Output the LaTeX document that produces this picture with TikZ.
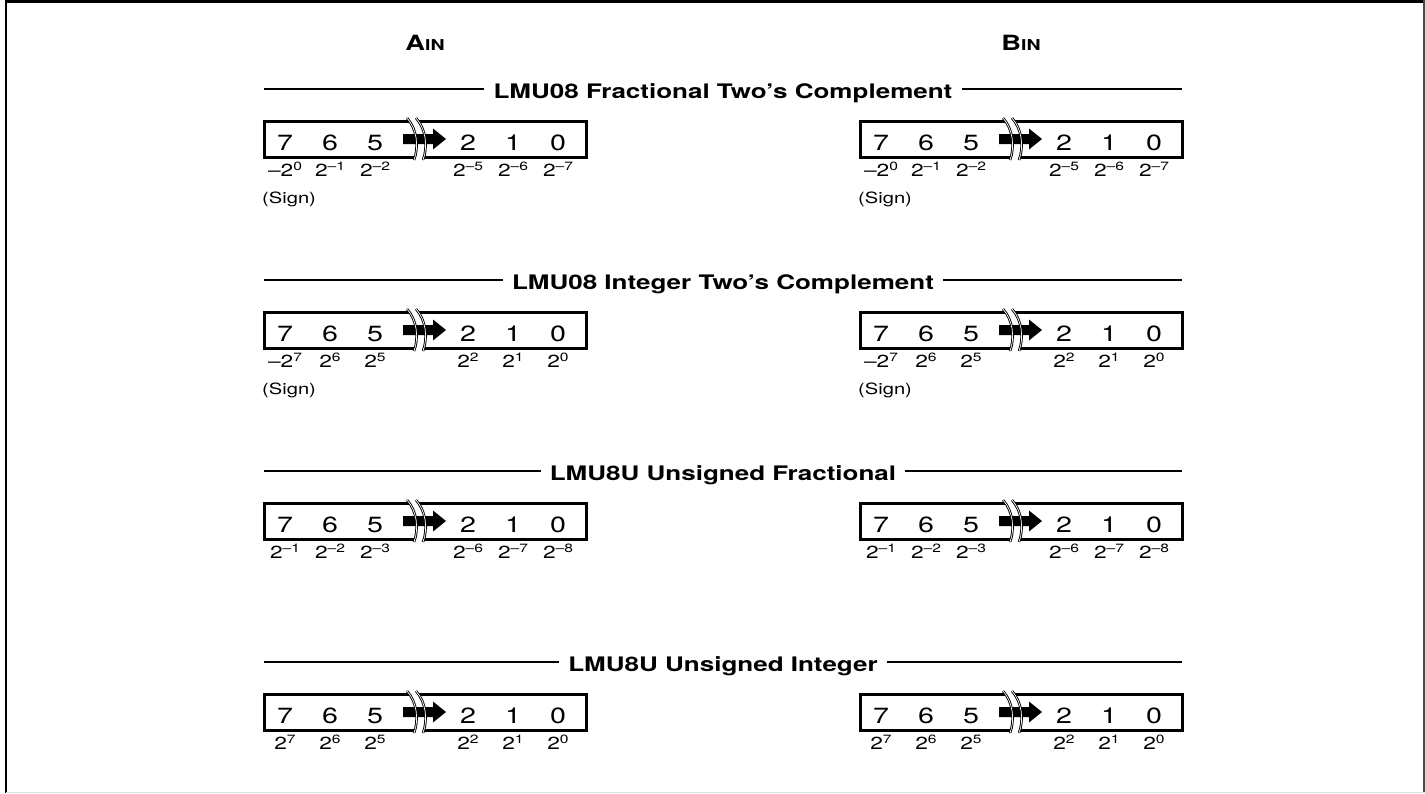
\documentclass[tikz,border=0pt]{standalone}
\usepackage{fontspec}
\setmainfont[FakeStretch=1.3]{TeX Gyre Heros}
\usetikzlibrary{calc,positioning}

\newcommand{\pw}[1]{2\raisebox{6pt}{\fontsize{12}{12}\selectfont #1}}
\newcommand{\mi}{\textendash}

\tikzset{
  regline/.style={line width=3pt},
  hdrline/.style={line width=1.8pt},
  bitnum/.style={font=\fontsize{22}{24}\selectfont, anchor=base, inner sep=0pt},
  weight/.style={font=\fontsize{17.5}{19}\selectfont, anchor=base, inner sep=0pt},
  signtxt/.style={font=\fontsize{15.5}{17}\selectfont, anchor=base west, inner sep=0pt},
  hdr/.style={font=\bfseries\fontsize{20}{22}\selectfont, anchor=base, inner sep=9pt},
  colhead/.style={font=\bfseries\fontsize{21}{23}\selectfont, anchor=base, inner sep=0pt},
  breakline/.style={line width=0.9pt, double=white, double distance=0.7pt},
}

% one register: bits 7 6 5 -> 2 1 0, weights under them
\newcommand{\bitreg}[9]{%
  \begin{scope}[shift={(#2,#3)}]
    \draw[regline] (0,-18) rectangle (322,18);
    \fill[white] (143,-21) .. controls (153,-10) and (155,8) .. (150,21)
      -- (159,21) .. controls (164,8) and (162,-10) .. (152,-21) -- cycle;
    \fill (139,-5) -- (169,-5) -- (169,-10.5) -- (182,0) -- (169,10.5)
      -- (169,5) -- (139,5) -- cycle;
    \draw[breakline] (143,-21) .. controls (153,-10) and (155,8) .. (150,21);
    \draw[breakline] (152,-21) .. controls (162,-10) and (164,8) .. (159,21);
    \foreach \b/\px in {7/21,6/66,5/111,2/204,1/249,0/294}
      \node[bitnum] (#1-b\b) at (\px,11) {\b};
    \foreach \b/\px/\w in {7/21/{#4},6/66/{#5},5/111/{#6},2/204/{#7},1/249/{#8},0/294/{#9}}
      \node[weight] (#1-w\b) at (\px,37) {\w};
  \end{scope}}

\begin{document}
\begin{tikzpicture}[x=1pt,y=-1pt]
  \useasboundingbox (0,0) rectangle (1425,793);
  % frame
  \draw[line width=2.7pt] (6,793) -- (6,1.3) -- (1425,1.3);
  \draw[line width=1.5pt, black!70] (1424.2,0) -- (1424.2,793);
  \draw[black!12] (6,792.5) -- (1425,792.5);

  \node[colhead] (ain) at (425,50) {A{\fontsize{15}{15}\selectfont IN}};
  \node[colhead] (bin) at (1021,50) {B{\fontsize{15}{15}\selectfont IN}};

  \foreach \n/\yy/\txt in {1/89/{LMU08 Fractional Two’s Complement},
      2/280/{LMU08 Integer Two’s Complement},
      3/471/{LMU8U Unsigned Fractional},
      4/662/{LMU8U Unsigned Integer}} {
    \node[hdr] (hdr\n) at (723,\yy+9) {\txt};
    \coordinate (hdr\n-l) at (264,\yy);
    \coordinate (hdr\n-r) at (1182,\yy);
    \draw[hdrline] (hdr\n-l) -- (hdr\n-l -| hdr\n.west)
      (hdr\n-r -| hdr\n.east) -- (hdr\n-r);
  }

  \bitreg{a1}{264}{139}{\mi\pw{0}}{\pw{\mi1}}{\pw{\mi2}}{\pw{\mi5}}{\pw{\mi6}}{\pw{\mi7}}
  \bitreg{b1}{860}{139}{\mi\pw{0}}{\pw{\mi1}}{\pw{\mi2}}{\pw{\mi5}}{\pw{\mi6}}{\pw{\mi7}}
  \bitreg{a2}{264}{330}{\mi\pw{7}}{\pw{6}}{\pw{5}}{\pw{2}}{\pw{1}}{\pw{0}}
  \bitreg{b2}{860}{330}{\mi\pw{7}}{\pw{6}}{\pw{5}}{\pw{2}}{\pw{1}}{\pw{0}}
  \bitreg{a3}{264}{521}{\pw{\mi1}}{\pw{\mi2}}{\pw{\mi3}}{\pw{\mi6}}{\pw{\mi7}}{\pw{\mi8}}
  \bitreg{b3}{860}{521}{\pw{\mi1}}{\pw{\mi2}}{\pw{\mi3}}{\pw{\mi6}}{\pw{\mi7}}{\pw{\mi8}}
  \bitreg{a4}{264}{712}{\pw{7}}{\pw{6}}{\pw{5}}{\pw{2}}{\pw{1}}{\pw{0}}
  \bitreg{b4}{860}{712}{\pw{7}}{\pw{6}}{\pw{5}}{\pw{2}}{\pw{1}}{\pw{0}}

  \foreach \r in {a1,b1,a2,b2}
    \node[signtxt] (\r-sign) at ($(\r-w7.base)+(-23,27)$) {(Sign)};
\end{tikzpicture}
\end{document}
